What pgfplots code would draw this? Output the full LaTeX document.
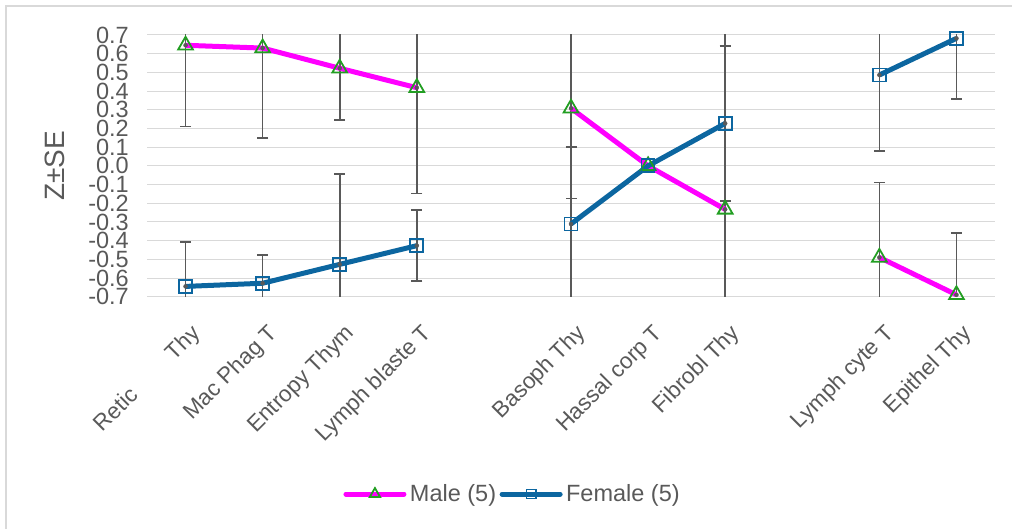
\documentclass[border=0pt]{standalone}
\usepackage{fontspec}
\setmainfont{Liberation Sans}
\usepackage{pgfplots}
\usepackage{pgfplotstable}
\pgfplotsset{compat=1.18}

\definecolor{maleline}{RGB}{255,0,255}
\definecolor{malemark}{RGB}{34,158,34}
\definecolor{femline}{RGB}{12,102,160}
\definecolor{errgray}{RGB}{89,89,89}
\definecolor{txtgray}{RGB}{89,89,89}
\definecolor{gridgray}{RGB}{217,217,217}

% x: category slot (5 and 9 are empty gaps), y: Z, e: SE
\pgfplotstableread{
x  y      e
1  0.645  0.435
2  0.630  0.480
3  0.522  0.277
4  0.418  0.565
5  nan    nan
6  0.308  0.482
7  0.000  0.000
8  -0.233 1.000
9  nan    nan
10 -0.490 0.400
11 -0.690 0.330
}\maletable

\pgfplotstableread{
x  y      e
1  -0.645 0.236
2  -0.628 0.151
3  -0.527 0.483
4  -0.427 0.190
5  nan    nan
6  -0.311 0.412
7  0.000  0.000
8  0.227  0.414
9  nan    nan
10 0.486  0.405
11 0.682  0.323
}\femaletable

\pgfplotsset{
  sebars/.style={errgray, only marks, mark=none, forget plot,
    skip coords between index={6}{7},
    error bars/.cd, y dir=both, y explicit, error mark=|,
    error bar style={line width=1.6pt, solid},
    error mark options={line width=1.6pt, mark size=5.5pt}},
}

\begin{document}
\begin{tikzpicture}[x=1pt,y=1pt]
\useasboundingbox (0,0) rectangle (1012,529);
% chart frame
\draw[gridgray, line width=1.3pt] (6,-2) -- (6,523) -- (1014,523);
\begin{axis}[
  at={(147pt,232.3pt)}, anchor=south west,
  width=848pt, height=261.7pt, scale only axis,
  xmin=0.5, xmax=11.5, ymin=-0.7, ymax=0.7,
  unbounded coords=jump,
  axis line style={draw=none},
  major tick length=0pt,
  ymajorgrids,
  major grid style={gridgray, line width=1pt},
  ytick={-0.7,-0.6,-0.5,-0.4,-0.3,-0.2,-0.1,0,0.1,0.2,0.3,0.4,0.5,0.6,0.7},
  yticklabel style={/pgf/number format/fixed, /pgf/number format/fixed zerofill,
    /pgf/number format/precision=1, /pgf/number format/assume math mode=true},
  yticklabel style={font=\fontsize{23.5pt}{24pt}\selectfont, text=txtgray, inner sep=0pt, anchor=east, xshift=-18pt},
  xtick={1,2,3,4,6,7,8,10,11},
  xticklabels={{Retic\hspace{50pt}Thy},{Mac Phag T},{Entropy Thym},{Lymph blaste T},{Basoph Thy},{Hassal corp T},{Fibrobl Thy},{Lymph cyte T},{Epithel Thy}},
  xticklabel style={font=\fontsize{22.5pt}{24pt}\selectfont, text=txtgray, inner sep=0pt, xshift=4pt, yshift=-26pt, rotate=45, anchor=north east},
  ylabel={Z±SE},
  ylabel style={font=\fontsize{28pt}{30pt}\selectfont, text=txtgray, at={(axis description cs:-0.1085,0.5)}, anchor=center},
  legend columns=2,
  legend style={at={(axis description cs:0.432,-0.754)}, anchor=center, draw=none, fill=none,
    inner sep=0pt, font=\fontsize{23.5pt}{24pt}\selectfont, text=txtgray,
    nodes={inner sep=3.5pt}, /tikz/every even column/.append style={column sep=0pt}},
  legend image code/.code={
    \draw[mark repeat=2, mark phase=2, line cap=round, #1, every mark/.append style={scale=0.7}]
      plot coordinates {(0pt,0pt) (29pt,0pt) (58pt,0pt)};
  },
]
% standard-error bars (the Hassal corp T slot has none)
\addplot[sebars] table[x=x, y=y, y error=e] {\maletable};
\addplot[sebars] table[x=x, y=y, y error=e] {\femaletable};

\addplot[maleline, line width=5pt, line join=round, mark=triangle, mark size=8.5pt,
  mark options={draw=malemark, fill=none, line width=1.8pt, solid, line join=miter}]
  table[x=x, y=y] {\maletable};
\addlegendentry{Male (5)}
\addplot[femline, line width=5pt, line join=round, mark=square, mark size=6.5pt,
  mark options={draw=femline, fill=none, line width=1.8pt, solid, line join=miter}]
  table[x=x, y=y] {\femaletable};
\addlegendentry{Female (5)}
\end{axis}
\end{tikzpicture}
\end{document}
